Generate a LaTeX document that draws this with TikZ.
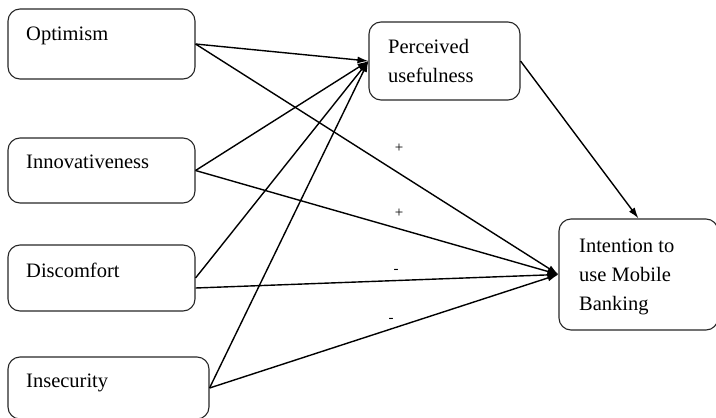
\documentclass[tikz,border=0pt]{standalone}
\usepackage{fontspec}
\setmainfont{Liberation Serif}
\usetikzlibrary{arrows.meta}
\begin{document}
\begin{tikzpicture}[x=1pt,y=-1pt,
  box/.style={draw=black!85, line width=1.1pt, rounded corners=12pt, minimum width=#1, inner sep=0pt},
  lbl/.style={anchor=base west, inner sep=0pt, font=\fontsize{20.5}{29}\selectfont, align=left},
  sgn/.style={inner sep=0pt, font=\fontsize{15}{16}\selectfont},
  arr/.style={line width=1.4pt, -{Latex[length=11pt,width=7pt]}}]
\useasboundingbox (0,0) rectangle (716,418);
% boxes
\node[box=187pt, minimum height=70pt] (opt) at (101.5,44) {};
\node[box=187pt, minimum height=65pt] (inn) at (101.5,170.5) {};
\node[box=187pt, minimum height=66pt] (dis) at (101.5,278) {};
\node[box=201pt, minimum height=62pt] (ins) at (108.5,388) {};
\node[box=151pt, minimum height=78pt] (pu) at (444.5,61) {};
\node[box=159pt, minimum height=111pt] (int) at (638.5,274.5) {};
% texts (base = last line)
\node[lbl] (toptim) at (26,40) {Optimism};
\node[lbl] (tinn) at (26,168) {Innovativeness};
\node[lbl] (tdis) at (26,277) {Discomfort};
\node[lbl] (tins) at (26,387) {Insecurity};
\node[lbl] (tpu) at (388,82) {Perceived\\usefulness};
\node[lbl] (tint) at (579,310) {Intention to\\use Mobile\\Banking};
% arrows
\draw[arr] (opt.east) -- (pu.west);
\draw[arr] (inn.east) -- (pu.west);
\draw[arr] (dis.east) -- (pu.west);
\draw[arr] (ins.east) -- (pu.west);
\draw[arr] (opt.east) -- (int.west);
\draw[arr] (inn.east) -- (int.west);
\draw[arr] ([yshift=-10pt]dis.east) -- (int.west);
\draw[arr] (ins.east) -- (int.west);
\draw[arr] (pu.east) -- (int.north);
% signs
\node[sgn] (s1) at (399,148) {+};
\node[sgn] (s2) at (399,213) {+};
\node[sgn] (s3) at (396,271) {-};
\node[sgn] (s4) at (391,320) {-};
\end{tikzpicture}
\end{document}
